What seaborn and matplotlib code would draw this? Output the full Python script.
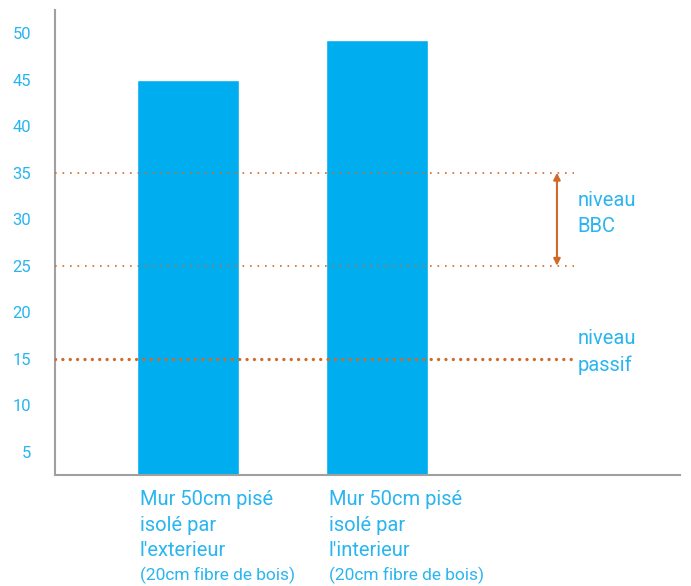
import matplotlib
matplotlib.use("Agg")
import matplotlib.pyplot as plt
import seaborn as sns
import pandas as pd
from matplotlib.ticker import MultipleLocator
import matplotlib.transforms as mtrans

categories = ["Mur 50cm pisé\nisolé par\nl\u2032exterieur", "Mur 50cm pisé\nisolé par\nl\u2032interieur"]
subtitles = ["(20cm fibre de bois)", "(20cm fibre de bois)"]
values = [45, 49.3]
bbc_range = [25, 35]
passif_level = 15
yticks = [5, 10, 15, 20, 25, 30, 35, 40, 45, 50]

blue = "#00AEEF"
label_blue = "#29B5F0"
orange = "#D06A28"
grey = "#A0A0A0"

sns.set_style("white")
plt.rcParams['font.family'] = ['Roboto', 'DejaVu Sans']

fig = plt.figure(figsize=(6.91, 5.86), dpi=100)
ax = fig.add_axes([55/691, 1-475/586, 625/691, 465/586])

df = pd.DataFrame({"cat": categories, "val": values})
sns.barplot(data=df, x="cat", y="val", color=blue, saturation=1, width=0.54, ax=ax)

ax.set_xlim(-0.704, 2.603)
ax.set_ylim(2.5, 52.5)
ax.set_xlabel("")
ax.set_ylabel("")
ax.set_xticks([])
ax.set_yticks(yticks)
ax.yaxis.set_minor_locator(MultipleLocator(2.5))
ax.tick_params(axis="y", which="major", length=7.2, width=1.5, color="#999999",
               labelcolor=label_blue, labelsize=12, pad=10)
ax.tick_params(axis="y", which="minor", length=7.2, width=1.2, color="#C8C8C8")

for s in ["top", "right"]:
    ax.spines[s].set_visible(False)
ax.spines["left"].set_color(grey)
ax.spines["left"].set_linewidth(1.5)
ax.spines["bottom"].set_color(grey)
ax.spines["bottom"].set_linewidth(1.5)

xend = 2.04
for lvl in bbc_range:
    ax.plot([-0.704, xend], [lvl, lvl], color=orange, lw=1.2, ls=(0, (1, 3.5)), zorder=3)
ax.plot([-0.704, xend], [passif_level, passif_level], color=orange, lw=2.4,
        ls=(0, (0.01, 2.2)), dash_capstyle="round", zorder=3)

ax.annotate("", xy=(1.952, bbc_range[1]), xytext=(1.952, bbc_range[0]),
            arrowprops=dict(arrowstyle="<|-|>", color=orange, lw=1.5,
                            mutation_scale=10, shrinkA=0, shrinkB=0))

ax.text(2.06, 30.6, "niveau\nBBC", color=label_blue, fontsize=14.5, va="center",
        ha="left", linespacing=1.45)
ax.text(2.06, 15.7, "niveau\npassif", color=label_blue, fontsize=14.5, va="center",
        ha="left", linespacing=1.45)

trans = mtrans.blended_transform_factory(ax.transData, ax.transAxes)
for i, (c, sub) in enumerate(zip(categories, subtitles)):
    ax.text(i - 0.255, -0.032, c, transform=trans, color=label_blue, fontsize=14.5,
            ha="left", va="top", linespacing=1.45)
    ax.text(i - 0.255, -0.226, sub, transform=trans, color=label_blue, fontsize=12.5,
            ha="left", va="baseline")

fig.savefig("out.png", dpi=100)
